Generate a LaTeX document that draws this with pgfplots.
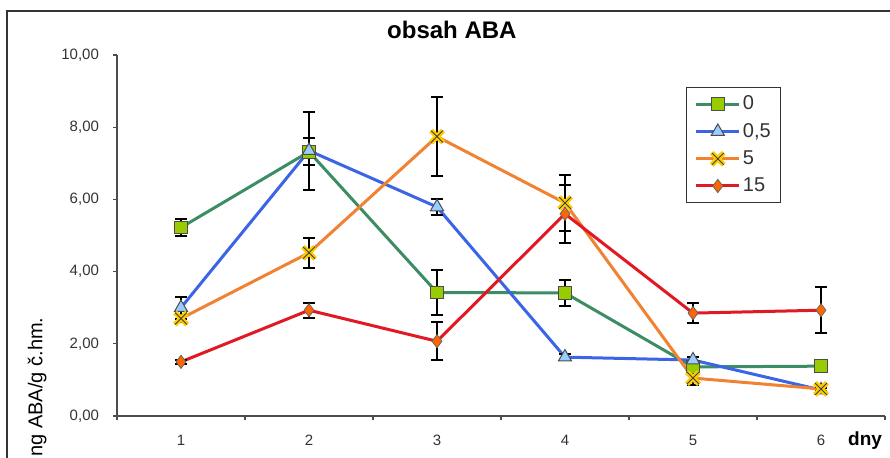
\documentclass[border=0pt]{standalone}
\usepackage{pgfplots}
\pgfplotsset{compat=1.18}
\usepackage{fontspec}
\setmainfont{Liberation Sans}
\definecolor{gline}{RGB}{60,140,100}
\definecolor{gfill}{RGB}{153,204,0}
\definecolor{bline}{RGB}{60,100,230}
\definecolor{bfill}{RGB}{153,204,255}
\definecolor{oline}{RGB}{240,130,50}
\definecolor{xyellow}{RGB}{255,204,0}
\definecolor{rline}{RGB}{225,25,35}
\definecolor{dfill}{RGB}{255,102,0}
\pgfdeclareplotmark{xmk}{%
  \pgfsetlinewidth{2.6pt}\pgfsetstrokecolor{xyellow}%
  \pgfpathmoveto{\pgfpoint{-\pgfplotmarksize}{-\pgfplotmarksize}}\pgfpathlineto{\pgfpoint{\pgfplotmarksize}{\pgfplotmarksize}}%
  \pgfpathmoveto{\pgfpoint{-\pgfplotmarksize}{\pgfplotmarksize}}\pgfpathlineto{\pgfpoint{\pgfplotmarksize}{-\pgfplotmarksize}}%
  \pgfusepathqstroke
  \pgfsetlinewidth{0.45pt}\pgfsetstrokecolor{black!75}%
  \pgfpathmoveto{\pgfpoint{-\pgfplotmarksize}{-\pgfplotmarksize}}\pgfpathlineto{\pgfpoint{\pgfplotmarksize}{\pgfplotmarksize}}%
  \pgfpathmoveto{\pgfpoint{-\pgfplotmarksize}{\pgfplotmarksize}}\pgfpathlineto{\pgfpoint{\pgfplotmarksize}{-\pgfplotmarksize}}%
  \pgfusepathqstroke
}
\begin{document}
\begin{tikzpicture}
\draw[black!80, line width=0.8pt] (3.5pt,-10pt) rectangle (460pt,223.5pt);
\begin{axis}[
  at={(58.5pt,21pt)}, anchor=south west,
  scale only axis, width=384pt, height=180.5pt,
  xmin=0.5, xmax=6.5, ymin=0, ymax=10,
  axis lines*=left,
  axis line style={black!70, line width=0.6pt},
  xtick={1,...,6},
  major x tick style={draw=none},
  minor xtick={0.5,1.5,...,6.5},
  minor tick length=2pt,
  ytick={0,2,...,10},
  major tick length=2pt,
  tick align=outside,
  tick style={black!70, line width=0.6pt},
  y tick label style={/pgf/number format/fixed, /pgf/number format/fixed zerofill, /pgf/number format/precision=2, /pgf/number format/use comma},
  /pgf/number format/assume math mode=true,
  tick label style={font=\fontsize{7.5}{9}\selectfont, text=black!80},
  yticklabel style={xshift=-3.5pt},
  xticklabel style={yshift=-4pt},
  title={\textbf{obsah ABA}},
  title style={at={(axis description cs:0.436,1.069)}, anchor=center, yshift=-6pt, font=\fontsize{12}{14}\selectfont},
  xlabel={\textbf{dny}},
  x label style={at={(axis description cs:0.974,-0.068)}, anchor=center, font=\fontsize{9.5}{11}\selectfont},
  ylabel={ng ABA/g č.hm.},
  y label style={at={(axis description cs:-0.104,0.292)}, anchor=east, font=\fontsize{10}{12}\selectfont},
  clip=false,
  legend style={at={(0.741,0.911)}, anchor=north west, draw=black!80, line width=0.6pt,
    font=\fontsize{10}{11}\selectfont, inner xsep=4pt, inner ysep=3pt, row sep=3.2pt,
    nodes={inner sep=1pt, text=black!80}},
  legend cell align=left,
  legend image code/.code={\draw[mark repeat=2,mark phase=2] plot coordinates {(0cm,0cm) (0.38cm,0cm) (0.76cm,0cm)};},
  every axis plot/.append style={line width=1.5pt},
  error bars/error bar style={black, line width=1pt},
  error bars/error mark options={black, line width=1pt, mark size=3pt, rotate=90},
]
\addplot[gline, mark=square*, mark size=3.2pt, mark options={fill=gfill, draw=black!70, line width=0.5pt},
  error bars/.cd, y dir=both, y explicit] coordinates {
  (1,5.22) +- (0,0.24)
  (2,7.32) +- (0,0.38)
  (3,3.42) +- (0,0.62)
  (4,3.41) +- (0,0.37)
  (5,1.36) +- (0,0.10)
  (6,1.38) +- (0,0.10)
};
\addlegendentry{0}
\addplot[bline, mark=triangle*, mark size=3.8pt, mark options={fill=bfill, draw=black!70, line width=0.5pt},
  error bars/.cd, y dir=both, y explicit] coordinates {
  (1,3.00) +- (0,0.30)
  (2,7.35) +- (0,1.08)
  (3,5.79) +- (0,0.22)
  (4,1.63) +- (0,0.08)
  (5,1.55) +- (0,0.08)
  (6,0.72) +- (0,0.05)
};
\addlegendentry{0,5}
\addplot[oline, mark=xmk, mark size=3pt,
  error bars/.cd, y dir=both, y explicit] coordinates {
  (1,2.70) +- (0,0.10)
  (2,4.52) +- (0,0.42)
  (3,7.74) +- (0,1.10)
  (4,5.90) +- (0,0.78)
  (5,1.05) +- (0,0.19)
  (6,0.75) +- (0,0.05)
};
\addlegendentry{5}
\addplot[rline, mark=diamond*, mark size=3.3pt, mark options={fill=dfill, draw=black!60, line width=0.4pt},
  error bars/.cd, y dir=both, y explicit] coordinates {
  (1,1.50) +- (0,0.05)
  (2,2.93) +- (0,0.21)
  (3,2.07) +- (0,0.52)
  (4,5.60) +- (0,0.80)
  (5,2.85) +- (0,0.28)
  (6,2.93) +- (0,0.63)
};
\addlegendentry{15}
\end{axis}
\pgfresetboundingbox
\path[use as bounding box] (0,0) rectangle (445pt,229pt);
\end{tikzpicture}
\end{document}
